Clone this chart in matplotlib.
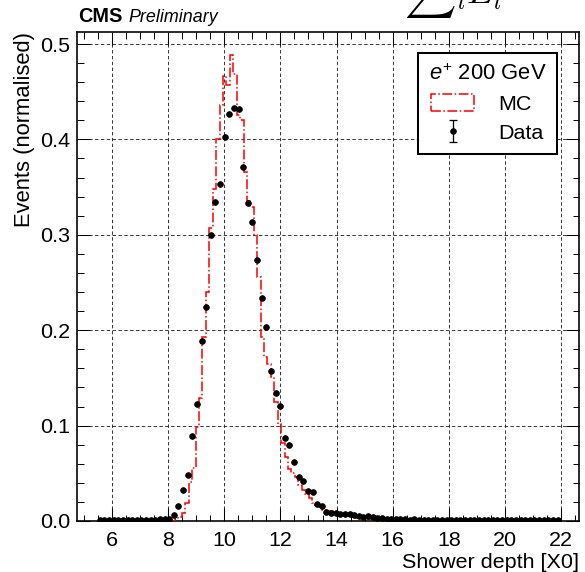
import numpy as np
import matplotlib
matplotlib.use("Agg")
import matplotlib.pyplot as plt
from matplotlib.ticker import MultipleLocator, AutoMinorLocator
from matplotlib.patches import Patch

# ---------------- data ----------------
# Data histogram: 100 bins
data_range = (5.48, 21.96)
data_values = [
    0.0012, 0.0008, 0.0010, 0.0009, 0.0011, 0.0013, 0.0010, 0.0012, 0.0014, 0.0011,
    0.0013, 0.0015, 0.0012, 0.0016, 0.0018, 0.0025, 0.0063, 0.0157, 0.0330, 0.0480,
    0.0895, 0.1226, 0.1890, 0.2240, 0.3000, 0.3340, 0.3530, 0.4030, 0.4270, 0.4330,
    0.4316, 0.3710, 0.3330, 0.3130, 0.2736, 0.2334, 0.2037, 0.1570, 0.1345, 0.1205,
    0.0867, 0.0797, 0.0622, 0.0465, 0.0423, 0.0314, 0.0307, 0.0175, 0.0157, 0.0098,
    0.0087, 0.0080, 0.0077, 0.0073, 0.0070, 0.0060, 0.0050, 0.0045, 0.0050, 0.0042,
    0.0035, 0.0030, 0.0025, 0.0020, 0.0020, 0.0018, 0.0017, 0.0015, 0.0016, 0.0014,
    0.0013, 0.0014, 0.0012, 0.0013, 0.0011, 0.0012, 0.0011, 0.0010, 0.0012, 0.0010,
    0.0011, 0.0010, 0.0009, 0.0011, 0.0010, 0.0009, 0.0010, 0.0011, 0.0009, 0.0010,
    0.0009, 0.0010, 0.0011, 0.0009, 0.0010, 0.0009, 0.0010, 0.0011, 0.0010, 0.0012,
]

# MC histogram: 100 bins
mc_range = (8.0, 20.2)
mc_values = [
    0.0000, 0.0005, 0.0020, 0.0045, 0.0087, 0.0185, 0.0412, 0.0552, 0.0989, 0.1286,
    0.1930, 0.2404, 0.3075, 0.3480, 0.4000, 0.4360, 0.4660, 0.4570, 0.4885, 0.4690,
    0.4256, 0.4200, 0.3660, 0.3350, 0.3290, 0.3000, 0.2560, 0.1930, 0.1720, 0.1650,
    0.1510, 0.1250, 0.1020, 0.0814, 0.0674, 0.0550, 0.0500, 0.0465, 0.0377, 0.0320,
    0.0280, 0.0240, 0.0190, 0.0170, 0.0150, 0.0120, 0.0110, 0.0100, 0.0080, 0.0070,
    0.0065, 0.0060, 0.0050, 0.0045, 0.0040, 0.0035, 0.0030, 0.0030, 0.0025, 0.0020,
    0.0020, 0.0018, 0.0016, 0.0015, 0.0014, 0.0013, 0.0012, 0.0011, 0.0010, 0.0010,
    0.0008, 0.0008, 0.0007, 0.0007, 0.0006, 0.0006, 0.0005, 0.0005, 0.0005, 0.0004,
    0.0004, 0.0004, 0.0003, 0.0003, 0.0003, 0.0003, 0.0003, 0.0002, 0.0002, 0.0002,
    0.0002, 0.0002, 0.0002, 0.0002, 0.0002, 0.0001, 0.0001, 0.0001, 0.0001, 0.0001,
]

xlim = (4.75, 22.64)
ylim = (0.0, 0.5126)
legend_title = r"$e^{+}$ 200 GeV"
mc_label = "MC"
data_label = "Data"
xlabel = "Shower depth [X0]"
ylabel = "Events (normalised)"

# ---------------- style ----------------
FONT = "Liberation Sans"
plt.rcParams.update({
    "font.family": [FONT, "DejaVu Sans"],
    "font.size": 26,
    "mathtext.fontset": "custom",
    "mathtext.rm": FONT,
    "mathtext.it": FONT + ":italic",
    "mathtext.bf": FONT + ":bold",
    "axes.linewidth": 2.0,
    "xtick.direction": "in",
    "ytick.direction": "in",
    "xtick.top": True,
    "ytick.right": True,
    "xtick.major.size": 16,
    "ytick.major.size": 16,
    "xtick.minor.size": 8,
    "ytick.minor.size": 8,
    "xtick.major.width": 1.3,
    "ytick.major.width": 1.3,
    "xtick.minor.width": 1.2,
    "ytick.minor.width": 1.2,
    "xtick.major.pad": 12,
    "ytick.major.pad": 8,
    "xtick.labelsize": 26.5,
    "ytick.labelsize": 26.5,
})

DPI = 58.5
fig = plt.figure(figsize=(585 / DPI, 572 / DPI), dpi=DPI)
W, H = 585, 572
ax_l, ax_r, ax_t, ax_b = 77, 579, 32, 521
ax = fig.add_axes([ax_l / W, 1 - ax_b / H, (ax_r - ax_l) / W, (ax_b - ax_t) / H])

data_edges = np.linspace(data_range[0], data_range[1], len(data_values) + 1)
data_centers = 0.5 * (data_edges[1:] + data_edges[:-1])
mc_edges = np.linspace(mc_range[0], mc_range[1], len(mc_values) + 1)

ax.grid(True, which="major", color="#222222", linewidth=1.2, linestyle="--", dashes=(3.5, 2.5), alpha=0.9)
ax.set_axisbelow(True)

ax.stairs(mc_values, mc_edges, color="red", linestyle="-.", linewidth=1.9, baseline=0, zorder=3)
ax.plot(data_centers, data_values, "o", color="black", markersize=7.0, zorder=4)

ax.set_xlim(*xlim)
ax.set_ylim(*ylim)
ax.xaxis.set_major_locator(MultipleLocator(2))
ax.xaxis.set_minor_locator(AutoMinorLocator(4))
ax.yaxis.set_major_locator(MultipleLocator(0.1))
ax.yaxis.set_minor_locator(AutoMinorLocator(5))

ax.set_xlabel(xlabel, loc="right", fontsize=26.5, labelpad=4)
ax.set_ylabel(ylabel, loc="top", fontsize=27, labelpad=6)

# legend handles
mc_handle = Patch(facecolor="none", edgecolor="red", linestyle="-.", linewidth=1.9)
data_handle = ax.errorbar([np.nan], [np.nan], yerr=[0.0], fmt="o", color="black",
                          markersize=7.0, capsize=4.5, elinewidth=1.6, capthick=1.6)
leg = ax.legend([mc_handle, data_handle], [mc_label, data_label], title=legend_title,
                loc="upper right", bbox_to_anchor=((557 - ax_l) / (ax_r - ax_l), (ax_b - 53) / (ax_b - ax_t)),
                borderaxespad=0, fontsize=26.5, title_fontsize=27, fancybox=False,
                framealpha=1.0, edgecolor="black", handlelength=2.0, handleheight=0.8,
                handletextpad=1.1, labelspacing=0.42, borderpad=0.5)
leg.get_frame().set_linewidth(2.5)
leg.set_zorder(10)

# CMS label
fig.text(78 / W, 1 - 22 / H, "CMS", fontsize=24.4, fontweight="bold", va="baseline", ha="left")
fig.text(128.5 / W, 1 - 22 / H, "Preliminary", fontsize=22, fontstyle="italic", va="baseline", ha="left")

# partially cropped formula at the top
fig.text(404 / W, 1 - 4 / H, r"${\sum}_l E_l$", fontsize=44, math_fontfamily="cm", va="baseline", ha="left")

fig.savefig("out.png", dpi=DPI)
